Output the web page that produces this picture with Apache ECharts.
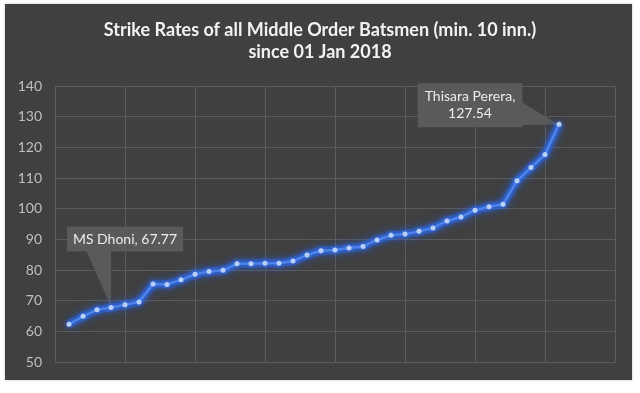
<!DOCTYPE html>
<html>
<head>
<meta charset="utf-8">
<script src="https://cdn.jsdelivr.net/npm/echarts@6/dist/echarts.min.js"></script>
<style>
  html, body { margin: 0; padding: 0; background: #ffffff; }
  #frame { position: absolute; left: 5px; top: 4px; width: 627px; height: 376px; background: #404040; box-shadow: 0 0 2px #bbbbbb; }
  #chart { position: absolute; left: 0; top: 0; width: 640px; height: 393px; }
</style>
</head>
<body>
<div id="frame"></div>
<div id="chart"></div>
<script>
// ---- data ----
const titleLines = ['Strike Rates of all Middle Order Batsmen (min. 10 inn.)', 'since 01 Jan 2018'];
const ranks = [1, 2, 3, 4, 5, 6, 7, 8, 9, 10, 11, 12, 13, 14, 15, 16, 17, 18,
               19, 20, 21, 22, 23, 24, 25, 26, 27, 28, 29, 30, 31, 32, 33, 34, 35, 36];
const strikeRates = [62.3, 64.9, 67.0, 67.77, 68.7, 69.6, 75.4, 75.3, 76.8, 78.6, 79.5, 79.9,
                     82.0, 82.0, 82.2, 82.2, 82.9, 84.9, 86.3, 86.5, 87.2, 87.7, 89.8, 91.3,
                     91.7, 92.6, 93.7, 96.0, 97.3, 99.5, 100.6, 101.4, 109.1, 113.4, 117.7, 127.54];
const annotatedIndex = [3, 35];
const annotatedNames = ['MS Dhoni', 'Thisara Perera'];
const yTicks = [50, 60, 70, 80, 90, 100, 110, 120, 130, 140];

// ---- styles ----
const FONT = 'Lato, "Open Sans", "Liberation Sans", sans-serif';
const BOX = '#5a5a5a';
const GRID = '#5c5c5c';
const labelOffsets = [[14, -68.5], [-89, -19]];

const chart = echarts.init(document.getElementById('chart'), null, { renderer: 'canvas' });

const xy = ranks.map((r, i) => [r, strikeRates[i]]);

const points = xy.map((v, i) => {
  const k = annotatedIndex.indexOf(i);
  const item = { value: v };
  if (k >= 0) {
    const twoLine = k === 1;
    item.label = {
      show: true,
      position: 'inside',
      formatter: annotatedNames[k] + ',' + (twoLine ? '\n' : ' ') + strikeRates[i].toFixed(2),
      color: '#ececec',
      fontFamily: FONT,
      fontSize: 14,
      lineHeight: 17,
      align: 'center',
      verticalAlign: 'middle',
      backgroundColor: BOX,
      padding: twoLine ? [5, 7, 5, 7] : [4, 6, 4, 6]
    };
  }
  return item;
});

const option = {
  backgroundColor: 'transparent',
  animation: false,
  title: {
    text: titleLines.join('\n'),
    left: 'center',
    top: 14,
    textStyle: { color: '#f2f2f2', fontFamily: FONT, fontSize: 18, fontWeight: 'bold', lineHeight: 22 }
  },
  grid: { left: 55, right: 25, top: 86, bottom: 31, containLabel: false },
  xAxis: {
    type: 'value', min: 0, max: 40, interval: 5,
    axisLine: { show: true, lineStyle: { color: GRID, width: 1 } },
    axisTick: { show: false },
    axisLabel: { show: false },
    splitLine: { show: true, lineStyle: { color: GRID, width: 1 } }
  },
  yAxis: {
    type: 'value', min: yTicks[0], max: yTicks[yTicks.length - 1], interval: 10,
    axisLine: { show: false },
    axisTick: { show: false },
    axisLabel: { color: '#bfbfbf', fontFamily: FONT, fontSize: 14, margin: 13 },
    splitLine: { show: true, lineStyle: { color: GRID, width: 1 } }
  },
  series: [{
    // soft glow under the line
    type: 'line',
    data: xy,
    z: 2,
    silent: true,
    symbol: 'none',
    lineStyle: { color: 'rgba(45,105,235,0.45)', width: 8, shadowColor: 'rgba(40,100,255,0.9)', shadowBlur: 10 },
    emphasis: { disabled: true }
  }, {
    type: 'line',
    data: points,
    z: 3,
    symbol: 'circle',
    symbolSize: 5,
    lineStyle: { color: '#4f85ea', width: 2.5, shadowColor: 'rgba(40,110,255,1)', shadowBlur: 6 },
    itemStyle: { color: '#b8d0f6', borderWidth: 0, shadowColor: 'rgba(60,120,255,0.9)', shadowBlur: 5 },
    emphasis: { disabled: true },
    labelLayout: function (params) {
      const k = annotatedIndex.indexOf(params.dataIndex);
      if (k < 0) return {};
      const r = params.rect;
      const cx = r.x + r.width / 2 + labelOffsets[k][0];
      const cy = r.y + r.height / 2 + labelOffsets[k][1];
      return { x: cx, y: cy, align: 'center', verticalAlign: 'middle', hideOverlap: false };
    }
  }]
};
chart.setOption(option);

// callout pointers, placed from the library's own pixel conversion
const p0 = chart.convertToPixel({ gridIndex: 0 }, xy[annotatedIndex[0]]);
const p1 = chart.convertToPixel({ gridIndex: 0 }, xy[annotatedIndex[1]]);
const c0 = [p0[0] + labelOffsets[0][0], p0[1] + labelOffsets[0][1]];
const c1 = [p1[0] + labelOffsets[1][0], p1[1] + labelOffsets[1][1]];
const bottom0 = c0[1] + 11;
const right1 = c1[0] + 52;
chart.setOption({
  graphic: [
    { type: 'polygon', z: 1, silent: true,
      shape: { points: [[c0[0] - 39, bottom0], [c0[0] - 14, bottom0], [p0[0], p0[1] - 1]] },
      style: { fill: BOX } },
    { type: 'polygon', z: 1, silent: true,
      shape: { points: [[right1, c1[1] - 3], [right1, c1[1] + 20], [p1[0] - 1, p1[1]]] },
      style: { fill: BOX } }
  ]
});
</script>
</body>
</html>
